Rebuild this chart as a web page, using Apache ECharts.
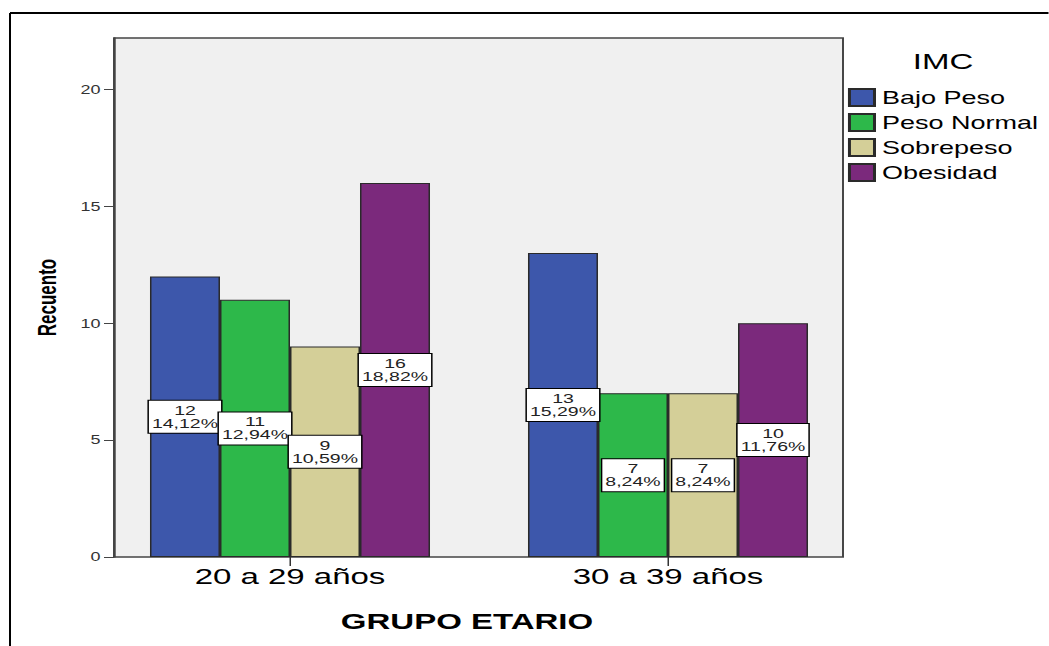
<!DOCTYPE html>
<html>
<head>
<meta charset="utf-8">
<script src="https://cdn.jsdelivr.net/npm/echarts@6/dist/echarts.min.js"></script>
<style>
  html, body { margin: 0; padding: 0; background: #fff; overflow: hidden; }
  /* the chart is laid out narrow and widened horizontally, like the wide SPSS output */
  #chart { width: 699.33px; height: 646px; transform: scaleX(1.5); transform-origin: 0 0; }
</style>
</head>
<body>
<div id="chart"></div>
<script>
// Recuento por grupo etario e IMC
const categories = ['20 a 29 años', '30 a 39 años'];
const bajoPeso = [12, 13];
const pesoNormal = [11, 7];
const sobrepeso = [9, 7];
const obesidad = [16, 10];
const yTicks = [0, 5, 10, 15, 20];

const seriesDefs = [
  { name: 'Bajo Peso', data: bajoPeso, color: '#3d57ab' },
  { name: 'Peso Normal', data: pesoNormal, color: '#2db84a' },
  { name: 'Sobrepeso', data: sobrepeso, color: '#d4cf98' },
  { name: 'Obesidad', data: obesidad, color: '#7b297c' }
];

const total = seriesDefs.reduce((s, d) => s + d.data.reduce((a, b) => a + b, 0), 0);
const pct = v => (v / total * 100).toFixed(2).replace('.', ',') + '%';

const FONT = 'Liberation Sans, Arial, sans-serif';
const chart = echarts.init(document.getElementById('chart'), null, { renderer: 'svg' });

chart.setOption({
  animation: false,
  backgroundColor: '#ffffff',
  title: {
    text: 'IMC',
    left: 628.7,
    top: 51,
    padding: 0,
    textAlign: 'center',
    textStyle: { fontFamily: FONT, fontSize: 22, fontWeight: 'normal', color: '#000' }
  },
  legend: {
    orient: 'vertical',
    left: 565.3,
    top: 88,
    padding: 0,
    itemWidth: 16.7,
    itemHeight: 17,
    itemGap: 6,
    icon: 'rect',
    textStyle: { fontFamily: FONT, fontSize: 18, color: '#000', lineHeight: 17, padding: 0 },
    data: seriesDefs.map(d => d.name)
  },
  graphic: [
    { type: 'line', shape: { x1: 6.67, y1: 13, x2: 700, y2: 13 }, style: { stroke: '#000', lineWidth: 2 } },
    { type: 'line', shape: { x1: 6.67, y1: 13, x2: 6.67, y2: 646 }, style: { stroke: '#000', lineWidth: 1.33 } }
  ],
  grid: [
    { left: 76, top: 38, width: 486, height: 519, show: true,
      backgroundColor: '#f0f0f0', borderColor: '#444', borderWidth: 1.3 },
    { left: 67.33, top: 38, width: 504, height: 519 }
  ],
  xAxis: [
    { gridIndex: 0, type: 'category', data: categories, show: false },
    {
      gridIndex: 1, type: 'category', data: categories,
      axisLine: { show: false },
      axisTick: { show: true, alignWithLabel: true, length: 9, lineStyle: { color: '#333', width: 1 } },
      axisLabel: { margin: 9, fontFamily: FONT, fontSize: 22, color: '#000' },
      name: 'GRUPO ETARIO',
      nameLocation: 'middle',
      nameGap: 54,
      nameTextStyle: { fontFamily: FONT, fontSize: 22, fontWeight: 'bold', color: '#000', padding: [0, 16, 0, 0] }
    }
  ],
  yAxis: [
    {
      gridIndex: 0, type: 'value', min: 0, max: 22.2,
      splitLine: { show: false },
      axisLine: { show: true, lineStyle: { color: '#444', width: 1.3 } },
      axisTick: { show: true, length: 6.67, customValues: yTicks, lineStyle: { color: '#444', width: 1 } },
      axisLabel: { margin: 9, customValues: yTicks, fontFamily: FONT, fontSize: 12, color: '#333' },
      name: 'Recuento',
      nameLocation: 'middle',
      nameRotate: 90,
      nameGap: 36,
      nameTextStyle: { fontFamily: FONT, fontSize: 17, fontWeight: 'bold', color: '#000' }
    },
    { gridIndex: 1, type: 'value', min: 0, max: 22.2, show: false }
  ],
  series: seriesDefs.map(d => ({
    name: d.name,
    type: 'bar',
    xAxisIndex: 1,
    yAxisIndex: 1,
    barWidth: 46.67,
    barGap: '0%',
    data: d.data,
    itemStyle: { color: d.color, borderColor: '#2a2a2a', borderWidth: 1 },
    label: {
      show: true,
      position: 'inside',
      formatter: p => p.value + '\n' + pct(p.value),
      fontFamily: FONT,
      fontSize: 13,
      lineHeight: 13,
      color: '#222',
      backgroundColor: '#ffffff',
      borderColor: '#000',
      borderWidth: 1,
      padding: [4, 2, 2, 2]
    }
  }))
});
</script>
</body>
</html>
